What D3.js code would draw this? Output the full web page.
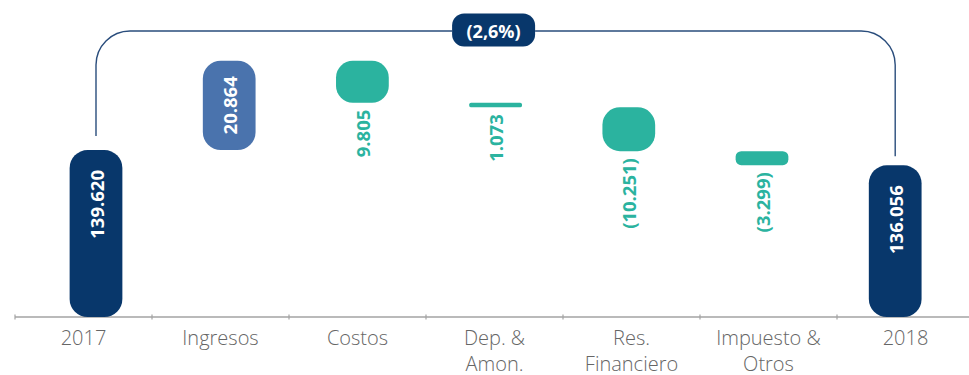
<!DOCTYPE html>
<html>
<head>
<meta charset="utf-8">
<script src="https://cdn.jsdelivr.net/npm/d3@7"></script>
<style>
  html, body { margin: 0; padding: 0; background: #ffffff; }
  svg { display: block; }
</style>
</head>
<body>
<div id="chart"></div>
<script>
// Net result bridge 2017 → 2018 (figures in thousands)
const categories = ["2017", "Ingresos", "Costos", "Dep. & Amon.", "Res. Financiero", "Impuesto & Otros", "2018"];
const tickLines = [["2017"], ["Ingresos"], ["Costos"], ["Dep. &", "Amon."], ["Res.", "Financiero"], ["Impuesto &", "Otros"], ["2018"]];
const values = [139620, 20864, -9805, -1073, -10251, -3299, 136056];
const kinds = ["total", "increase", "decrease", "decrease", "decrease", "decrease", "total"];
const valueLabels = ["139.620", "20.864", "9.805", "1.073", "(10.251)", "(3.299)", "136.056"];
const changeLabel = "(2,6%)";
// the value axis is cut: bars start from this level instead of zero
const axisBase = 100600;

const W = 969, H = 375;
const colors = { total: "#08376b", increase: "#4a73ad", decrease: "#2bb39f" };

// running totals -> start/end of each step
let run = 0;
const steps = categories.map((c, i) => {
  let y0, y1;
  if (kinds[i] === "total") { y0 = axisBase; y1 = values[i]; run = values[i]; }
  else { y0 = run; y1 = run + values[i]; run = y1; }
  return { cat: c, kind: kinds[i], y0, y1, label: valueLabels[i], lines: tickLines[i] };
});

const svg = d3.select("#chart").append("svg").attr("width", W).attr("height", H);

const y = d3.scaleLinear().domain([axisBase, 170000]).range([317, 20]);
const xAxis = d3.scaleBand().domain(categories).range([15, 974]);
const xBar = d3.scaleBand().domain(categories).range([29.4, 961.8])
  .paddingInner(0.604).paddingOuter(0.302);

// category axis
const axisG = svg.append("g").attr("transform", `translate(0,${y(axisBase)})`);
axisG.append("line").attr("x1", 15).attr("x2", W).attr("stroke", "#a3a3a3").attr("stroke-width", 1.3);
axisG.selectAll("line.tick").data(categories).join("line")
  .attr("class", "tick")
  .attr("x1", d => xAxis(d)).attr("x2", d => xAxis(d))
  .attr("y1", -2.5).attr("y2", 2.5)
  .attr("stroke", "#a3a3a3").attr("stroke-width", 1.2);
const lab = axisG.selectAll("text.cat").data(steps).join("text")
  .attr("class", "cat")
  .attr("x", d => xAxis(d.cat) + xAxis.bandwidth() / 2)
  .attr("y", 28)
  .attr("text-anchor", "middle")
  .attr("font-family", "'Open Sans', sans-serif")
  .attr("font-weight", 300)
  .attr("font-size", 20)
  .attr("fill", "#666666");
lab.selectAll("tspan").data(d => d.lines).join("tspan")
  .attr("x", function() { return d3.select(this.parentNode).attr("x"); })
  .attr("dy", (d, i) => i === 0 ? 0 : 26)
  .text(d => d);

// bars
const bw = xBar.bandwidth();
steps.forEach(s => {
  const top = y(Math.max(s.y0, s.y1));
  const bot = y(Math.min(s.y0, s.y1));
  const h = bot - top;
  const r = Math.min(18, h * 0.4);
  s.top = top; s.bot = bot; s.cx = xBar(s.cat) + bw / 2;
  svg.append("rect")
    .attr("x", xBar(s.cat)).attr("y", top)
    .attr("width", bw).attr("height", h)
    .attr("rx", r).attr("ry", r)
    .attr("fill", colors[s.kind]);
});

// value labels, rotated
steps.forEach(s => {
  const inside = s.kind !== "decrease";
  let ty, anchor;
  if (s.kind === "total") { ty = s.top + 20; anchor = "end"; }
  else if (s.kind === "increase") { ty = (s.top + s.bot) / 2; anchor = "middle"; }
  else { ty = s.bot + 7; anchor = "end"; }
  svg.append("text")
    .attr("transform", `translate(${s.cx},${ty}) rotate(-90)`)
    .attr("text-anchor", anchor)
    .attr("dominant-baseline", "central")
    .attr("font-family", "'Open Sans', sans-serif")
    .attr("font-weight", 700)
    .attr("font-size", 18.5)
    .attr("fill", inside ? "#ffffff" : colors.decrease)
    .text(s.label);
});

// bracket linking the two totals
const first = steps[0], last = steps[steps.length - 1];
const lineY = 31, rad = 34;
const badgeW = 83, badgeH = 33;
const midX = (first.cx + last.cx) / 2 - 2;
svg.append("path")
  .attr("d", `M${first.cx},${first.top - 14} V${lineY + rad} A${rad},${rad} 0 0 1 ${first.cx + rad},${lineY} H${midX - badgeW / 2}` +
             `M${midX + badgeW / 2},${lineY} H${last.cx - rad} A${rad},${rad} 0 0 1 ${last.cx},${lineY + rad} V${last.top - 9}`)
  .attr("fill", "none").attr("stroke", "#2a4d7c").attr("stroke-width", 1.4);
svg.append("rect")
  .attr("x", midX - badgeW / 2).attr("y", lineY - badgeH / 2 - 1)
  .attr("width", badgeW).attr("height", badgeH)
  .attr("rx", 12).attr("fill", colors.total);
svg.append("text")
  .attr("x", midX).attr("y", lineY)
  .attr("text-anchor", "middle").attr("dominant-baseline", "central")
  .attr("font-family", "'Open Sans', sans-serif")
  .attr("font-weight", 700).attr("font-size", 18)
  .attr("fill", "#ffffff")
  .text(changeLabel);
</script>
</body>
</html>
